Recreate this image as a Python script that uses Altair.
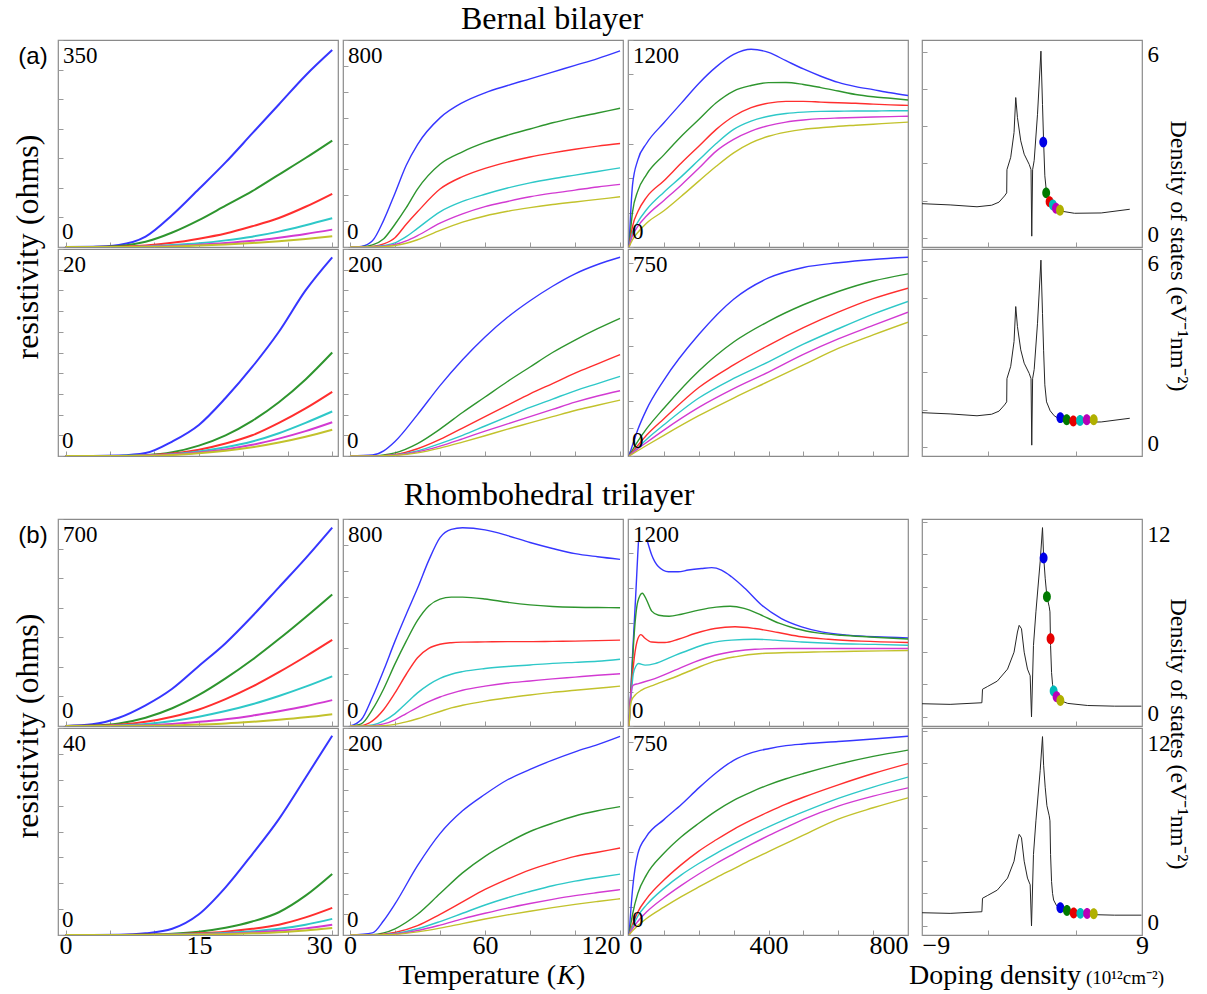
import altair as alt
import pandas as pd

# ---------------- styling constants ----------------
NAMES = ["blue", "green", "red", "cyan", "magenta", "yellow"]
LINE_COLORS = ["#3636ff", "#2e952e", "#ff2e2e", "#2ec8c8", "#d23ad2", "#c2c22c"]
DOT_COLORS = ["#0000e6", "#007a00", "#e60000", "#00baba", "#b800b8", "#b0b000"]
SERIF = "Liberation Serif"
SANS = "Liberation Sans"
W, W4, H = 280, 220, 207

# ---------------- data ----------------
T30 = [0, 3, 6, 9, 12, 15, 18, 21, 24, 27, 30]
T_A2 = [0, 5, 10, 15, 20, 25, 30, 40, 50, 60, 70, 80, 90, 100, 110, 120]
T_A3 = [0, 10, 25, 50, 100, 150, 200, 250, 300, 350, 400, 450, 500, 550, 600, 650, 700, 750, 800]
T_B2 = [0, 10, 15, 20, 30, 40, 50, 60, 70, 80, 90, 100, 110, 120]
T_B3 = [0, 25, 50, 100, 200, 300, 400, 500, 600, 700, 800]
T_C2 = [0, 5, 10, 15, 20, 25, 30, 35, 40, 45, 50, 60, 70, 80, 90, 100, 110, 120]
T_D3 = [0, 10, 25, 50, 100, 150, 200, 250, 300, 350, 400, 450, 500, 600, 700, 800]

A1 = {
    "blue": [0, 0.4, 3.5, 17.5, 54, 98, 143, 192, 241, 290, 333],
    "green": [0, 0, 1.8, 8.8, 24.5, 45.5, 70, 94.5, 122.5, 150.5, 180],
    "red": [0, 0, 0.4, 2.5, 7, 14, 22.8, 35, 49, 68, 90],
    "cyan": [0, 0, 0, 1, 3.2, 6.3, 11.2, 17.5, 26, 36.8, 48.6],
    "magenta": [0, 0, 0, 0.7, 1.8, 3.9, 6.7, 10.5, 15.8, 22, 29.4],
    "yellow": [0, 0, 0, 0.4, 1, 2.5, 4.2, 6.7, 9.8, 13.7, 18.2],
}
A2 = {
    "blue": [0, 2.4, 24, 104, 208, 316, 396, 499, 558, 596, 624, 650, 676, 702, 728, 758],
    "green": [0, 0.8, 8, 32, 88, 152, 224, 320, 368, 404, 432, 456, 480, 500, 518, 536],
    "red": [0, 0, 2.4, 12, 36, 88, 136, 224, 272, 304, 328, 348, 364, 378, 390, 400],
    "cyan": [0, 0, 0.8, 5.6, 16, 40, 72, 136, 176, 204, 228, 248, 264, 278, 292, 306],
    "magenta": [0, 0, 0, 3.2, 9.6, 24, 44, 92, 128, 156, 176, 194, 208, 220, 232, 242],
    "yellow": [0, 0, 0, 1.6, 5.6, 14.4, 28, 64, 96, 120, 138, 152, 164, 174, 184, 194],
}
A3 = {
    "blue": [0, 360, 504, 600, 720, 834, 948, 1044, 1116, 1146, 1128, 1080, 1032, 990, 954, 930, 912, 894, 878],
    "green": [0, 204, 324, 420, 534, 642, 739, 836, 904, 936, 953, 954, 942, 924, 904, 884, 871, 862, 852],
    "red": [0, 120, 204, 288, 384, 487, 584, 682, 758, 808, 834, 844, 844, 840, 836, 833, 828, 824, 821],
    "cyan": [0, 84, 144, 216, 318, 408, 504, 600, 682, 730, 758, 774, 782, 786, 787, 788, 788, 790, 790],
    "magenta": [0, 66, 120, 180, 270, 360, 456, 556, 624, 672, 704, 724, 736, 744, 748, 751, 754, 756, 758],
    "yellow": [0, 42, 84, 138, 210, 294, 382, 468, 546, 604, 642, 666, 682, 691, 700, 706, 712, 718, 724],
}
B1 = {
    "blue": [0, 0, 0.04, 0.28, 1.4, 3.0, 5.6, 8.6, 12, 16, 19.2],
    "green": [0, 0, 0, 0.08, 0.36, 1.0, 2.0, 3.4, 5.2, 7.4, 10.0],
    "red": [0, 0, 0, 0.06, 0.24, 0.6, 1.2, 2.0, 3.2, 4.6, 6.2],
    "cyan": [0, 0, 0, 0.04, 0.18, 0.44, 0.84, 1.4, 2.2, 3.2, 4.3],
    "magenta": [0, 0, 0, 0.04, 0.14, 0.34, 0.64, 1.08, 1.68, 2.4, 3.26],
    "yellow": [0, 0, 0, 0.02, 0.1, 0.26, 0.5, 0.84, 1.3, 1.86, 2.54],
}
B2 = {
    "blue": [0, 1, 5, 14, 40, 68, 93, 115, 134, 150, 164, 176, 185, 192],
    "green": [0, 0, 1, 3, 12, 26, 42, 57, 72, 86, 100, 112, 123, 133],
    "red": [0, 0, 0.4, 1.4, 7, 16, 27, 38, 49, 60, 70, 80, 89, 98],
    "cyan": [0, 0, 0.2, 1, 5, 12, 20, 29, 38, 47, 55, 63, 70, 77],
    "magenta": [0, 0, 0.2, 0.8, 4, 9.6, 16.6, 24, 31, 38, 45, 52, 58, 63],
    "yellow": [0, 0, 0.2, 0.6, 3, 7.6, 13.4, 19.6, 26, 32, 38, 44, 49, 54],
}
B3 = {
    "blue": [0, 95, 168, 275, 440, 568, 645, 683, 700, 712, 720],
    "green": [0, 53, 98, 173, 308, 413, 488, 548, 596, 634, 660],
    "red": [0, 38, 75, 135, 248, 330, 401, 465, 521, 570, 608],
    "cyan": [0, 30, 60, 113, 210, 281, 341, 405, 461, 514, 560],
    "magenta": [0, 26, 49, 94, 176, 244, 304, 368, 424, 473, 521],
    "yellow": [0, 19, 38, 75, 146, 210, 270, 330, 390, 439, 485],
}
C1 = {
    "blue": [0, 5.6, 28, 70, 126, 203, 280, 371, 469, 567, 671],
    "green": [0, 1.4, 8.4, 28, 60, 105, 161, 224, 294, 368, 445],
    "red": [0, 0.7, 4.2, 14, 31.5, 56, 91, 133, 182, 235, 291],
    "cyan": [0, 0, 2.1, 7, 16.8, 31.5, 50.4, 73.5, 101.5, 133, 168],
    "magenta": [0, 0, 0.7, 2.8, 7, 14, 23, 35, 50, 67, 87.5],
    "yellow": [0, 0, 0, 0.7, 2.1, 4.9, 8.4, 14, 21, 29.4, 40],
}
C2 = {
    "blue": [0, 24, 112, 216, 328, 432, 532, 640, 728, 760, 766, 758, 736, 709, 686, 666, 654, 644],
    "green": [0, 8, 64, 144, 240, 328, 408, 464, 490, 498, 498, 491, 478, 468, 462, 459, 458, 457],
    "red": [0, 1.6, 20, 64, 128, 200, 264, 300, 316, 322, 324, 325, 326, 326, 327, 328, 330, 332],
    "cyan": [0, 0, 4, 20, 48, 88, 128, 160, 184, 200, 210, 222, 230, 236, 242, 246, 250, 258],
    "magenta": [0, 0, 1.6, 8, 24, 48, 72, 94, 112, 126, 138, 154, 166, 174, 182, 189, 196, 202],
    "yellow": [0, 0, 0, 1.6, 6.4, 16, 28, 42, 56, 70, 80, 96, 109, 120, 130, 138, 146, 154],
}
T_C3_BLUE_A = [0, 5, 10, 15, 20, 25, 27]
R_C3_BLUE_A = [12, 204, 408, 600, 792, 996, 1068]
T_C3_BLUE_B = [53, 65, 84, 113, 141, 170, 208, 237, 265, 294, 332, 380, 437, 495, 552, 628, 705, 800]
R_C3_BLUE_B = [1068, 991, 924, 894, 894, 904, 913, 918, 904, 865, 798, 701, 623, 575, 546, 527, 517, 511]
T_C3_GREEN = [0, 8, 15, 25, 38, 50, 65, 85, 115, 150, 200, 250, 290, 330, 380, 430, 480, 540, 610, 690, 800]
R_C3_GREEN = [0, 300, 540, 720, 770, 732, 666, 642, 636, 648, 672, 689, 694, 682, 642, 596, 564, 540, 526, 516, 504]
T_C3_RED = [0, 5, 15, 25, 34, 45, 65, 103, 141, 189, 246, 304, 361, 428, 495, 571, 666, 800]
R_C3_RED = [0, 180, 396, 504, 530, 510, 487, 484, 503, 536, 565, 575, 565, 542, 517, 503, 492, 484]
T_C3_CYAN = [0, 5, 12, 20, 27, 46, 74, 122, 170, 227, 294, 361, 418, 495, 590, 705, 800]
R_C3_CYAN = [0, 144, 300, 348, 362, 353, 362, 401, 439, 478, 498, 503, 498, 487, 478, 473, 468]
T_C3_MAGENTA = [0, 3, 6, 12, 27, 74, 132, 189, 246, 304, 361, 437, 514, 609, 800]
R_C3_MAGENTA = [0, 120, 192, 236, 246, 275, 324, 372, 410, 433, 445, 449, 449, 449, 449]
T_C3_YELLOW = [0, 2, 4, 8, 17, 36, 74, 132, 189, 246, 304, 380, 456, 552, 647, 800]
R_C3_YELLOW = [0, 72, 120, 152, 178, 208, 240, 284, 332, 376, 401, 420, 426, 430, 433, 438]
D1 = {
    "blue": [0, 0, 0.04, 0.32, 1.2, 4, 9.2, 15.6, 22.4, 30.4, 38.5],
    "green": [0, 0, 0, 0.08, 0.24, 0.64, 1.4, 2.6, 4.4, 7.6, 11.8],
    "red": [0, 0, 0, 0.04, 0.12, 0.32, 0.64, 1.2, 2, 3.4, 5.24],
    "cyan": [0, 0, 0, 0, 0.08, 0.2, 0.4, 0.72, 1.2, 2, 3.12],
    "magenta": [0, 0, 0, 0, 0.04, 0.12, 0.24, 0.48, 0.8, 1.28, 2],
    "yellow": [0, 0, 0, 0, 0.04, 0.08, 0.16, 0.32, 0.52, 0.88, 1.36],
}
D2 = {
    "blue": [0, 2, 14, 30, 67, 98, 120, 136, 150, 160, 169, 177, 184, 192],
    "green": [0, 0.2, 2, 6, 20, 40, 60, 76, 89, 100, 108, 115, 120, 124],
    "red": [0, 0, 0.8, 2.4, 9, 20, 32, 44, 54, 63, 70, 76, 80, 84],
    "cyan": [0, 0, 0.4, 1.4, 6, 13, 21, 29, 36, 42, 47.6, 52, 55.6, 58.8],
    "magenta": [0, 0, 0.2, 1, 4.4, 9.6, 15.6, 21, 26, 30.4, 34.4, 38, 41, 43.8],
    "yellow": [0, 0, 0.2, 0.6, 3, 6.6, 11, 15.4, 19.4, 23, 26.4, 29.6, 32.4, 35],
}
D3 = {
    "blue": [0, 165, 293, 357, 418, 473, 533, 588, 633, 660, 675, 686, 692, 701, 710, 720],
    "green": [0, 75, 150, 218, 296, 356, 405, 450, 488, 518, 544, 566, 585, 619, 647, 670],
    "red": [0, 38, 83, 131, 199, 255, 304, 345, 383, 416, 446, 474, 499, 544, 585, 621],
    "cyan": [0, 30, 68, 109, 169, 218, 259, 296, 330, 362, 392, 420, 446, 495, 536, 572],
    "magenta": [0, 23, 49, 83, 135, 180, 221, 259, 294, 328, 360, 390, 419, 467, 503, 533],
    "yellow": [0, 15, 34, 60, 101, 139, 174, 208, 240, 272, 302, 332, 362, 420, 461, 497],
}
YMAX = {"A1": 350, "A2": 800, "A3": 1200, "B1": 20, "B2": 200, "B3": 750,
        "C1": 700, "C2": 800, "C3": 1200, "D1": 40, "D2": 200, "D3": 750}

N_BL = [-9, -6.7, -4.5, -3.3, -2.7, -2.25, -2.07, -2.05, -1.74, -1.47, -1.33, -1.19, -0.92, -0.64,
        -0.23, -0.08, -0.02, 0.05, 0.18, 0.45, 0.73, 0.86, 0.95, 1.05, 1.19, 1.49, 1.82, 2.37, 3.47, 5.66, 8.0]
DOS_BL = [1.1, 1.06, 1.0, 1.05, 1.15, 1.35, 1.45, 2.2, 2.6, 3.4, 4.53, 3.88, 3.13, 2.7,
          2.37, 2.2, 0.05, 2.2, 2.5, 3.99, 6.03, 4.3, 3.1, 2.0, 1.45, 1.16, 1.0, 0.86, 0.79, 0.8, 0.92]
N_TL = [-9, -6.7, -4.1, -4.05, -3.66, -2.84, -2.0, -1.47, -1.19, -1.05, -0.86, -0.64, -0.37, -0.15, -0.04,
        0.12, 0.32, 0.67, 0.86, 0.95, 1.08, 1.22, 1.41, 1.47, 1.52, 1.6, 1.68, 1.77, 2.01, 2.32, 2.92, 4.56, 6.75, 8.95]
DOS_TL = [0.81, 0.77, 0.87, 1.7, 1.86, 2.2, 2.94, 3.98, 5.22, 5.63, 5.42, 3.98, 2.94, 2.53, 0.0,
          4.39, 6.46, 9.57, 11.64, 9.88, 8.53, 7.39, 6.77, 6.46, 4.39, 2.73, 2.0, 1.59, 1.24, 1.01, 0.83, 0.7, 0.66, 0.66]
DOT_N_A = [0.92, 1.16, 1.44, 1.71, 1.96, 2.29]
DOT_D_A = [3.09, 1.45, 1.16, 1.06, 0.95, 0.89]
DOT_N_B = [2.32, 2.84, 3.38, 3.93, 4.48, 5.05]
DOT_D_B = [0.94, 0.87, 0.83, 0.85, 0.87, 0.87]
DOT_N_C = [0.95, 1.22, 1.52, 1.77, 2.01, 2.32]
DOT_D_C = [9.77, 7.39, 4.8, 1.59, 1.24, 1.01]
DOT_N_D = [2.32, 2.86, 3.41, 3.96, 4.51, 5.05]
DOT_D_D = [1.12, 0.95, 0.79, 0.77, 0.76, 0.75]

XTICKS = {1: [0, 5, 10, 15, 20, 25, 30], 2: [0, 20, 40, 60, 80, 100, 120],
          3: [0, 100, 200, 300, 400, 500, 600, 700, 800], 4: [-9, -7.2, -3.6, 0, 3.6, 7.2, 9]}
XLABELS = {1: [0, 15, 30], 2: [0, 60, 120], 3: [0, 400, 800], 4: [-9, 0, 9]}
XDOM = {1: [-0.85, 30.65], 2: [-3.1, 121.3], 3: [-3, 800], 4: [-9, 9]}
XALIGN = {1: {"condition": {"test": "datum.value == 30", "value": "right"}, "value": "center"},
          2: {"condition": {"test": "datum.value == 120", "value": "right"}, "value": "center"},
          3: {"condition": [{"test": "datum.value == 0", "value": "left"},
                            {"test": "datum.value == 800", "value": "right"}], "value": "center"},
          4: {"condition": {"test": "datum.value == -9", "value": "left"}, "value": "center"}}
DOS_DOM_BL = [-0.3, 6.39]
DOS_DOM_TL = [-0.56, 12.17]

ONE = pd.DataFrame({"k": [0]})


def txt(s, x, y, size=23, font=SERIF, align="left", baseline="alphabetic", angle=0, style="normal"):
    return alt.Chart(ONE).mark_text(
        text=s, font=font, fontSize=size, align=align, baseline=baseline,
        angle=angle, fontStyle=style, color="black"
    ).encode(x=alt.value(x), y=alt.value(y))


def x_axis(col, show):
    labs = XLABELS[col]
    expr = " || ".join(f"datum.value == {v}" for v in labs)
    return alt.Axis(values=XTICKS[col], labels=show, labelExpr=f"({expr}) ? datum.label : ''",
                    labelAlign=XALIGN[col], labelFlush=False, labelOverlap=False,
                    offset=-5, domain=False, ticks=True, tickSize=5, tickColor="#9a9a9a",
                    tickWidth=1, grid=False, title=None, labelFont=SERIF, labelFontSize=26,
                    labelColor="black", labelPadding=-3)


def res_panel(key, col, spec, show_x, extra=()):
    rows = []
    for i, name in enumerate(NAMES):
        for j, (ts, rs) in enumerate(spec[name]):
            for t, r in zip(ts, rs):
                rows.append({"T": t, "R": r, "col": LINE_COLORS[i], "seg": f"{i}{name}{j}"})
    df = pd.DataFrame(rows)
    ymax = YMAX[key]
    yax = alt.Axis(tickCount=7, labels=False, offset=-5, domain=False, ticks=True, tickSize=5,
                   tickColor="#9a9a9a", grid=False, title=None)
    lines = alt.Chart(df).mark_line(clip=True, strokeWidth=2.0 if col == 1 else 1.4,
                                    interpolate="monotone").encode(
        x=alt.X("T:Q", scale=alt.Scale(domain=XDOM[col], nice=False, zero=False), axis=x_axis(col, show_x)),
        y=alt.Y("R:Q", scale=alt.Scale(domain=[0, ymax], nice=False, zero=False), axis=yax),
        color=alt.Color("col:N", scale=None),
        detail="seg:N",
        order=alt.Order("T:Q"),
    )
    layers = [lines, txt(str(ymax), 5, 23), txt("0", 4, H - 8)] + list(extra)
    return alt.layer(*layers).properties(width=W, height=H)


def uni(T, d):
    return {k: [(T, v)] for k, v in d.items()}


def dos_panel(nn, dd, dn, dv, dom, yticks, ytop, show_x, extra=()):
    df = pd.DataFrame({"n": nn, "D": dd})
    dfd = pd.DataFrame({"n": dn, "D": dv, "col": DOT_COLORS})
    xsc = alt.Scale(domain=XDOM[4], nice=False, zero=False)
    ysc = alt.Scale(domain=dom, nice=False, zero=False)
    yleft = alt.Axis(values=yticks, labels=False, offset=-5, domain=False, ticks=True, tickSize=5,
                     tickColor="#9a9a9a", grid=False, title=None)
    top_base = "top" if ytop > 6 else "middle"
    yright = alt.Axis(orient="right", values=[0, ytop], ticks=False, domain=False, grid=False,
                      title=None, labelPadding=5, labelFont=SERIF, labelFontSize=23, labelColor="black",
                      labelBaseline={"condition": {"test": f"datum.value == {ytop}", "value": top_base},
                                     "value": "middle"},
                      labelOffset={"condition": {"test": "datum.value == 0", "value": -3}, "value": 2})
    curve = alt.Chart(df).mark_line(color="#262626", strokeWidth=1.0).encode(
        x=alt.X("n:Q", scale=xsc, axis=x_axis(4, show_x)),
        y=alt.Y("D:Q", scale=ysc, axis=yleft),
        order=alt.Order("n:Q"),
    )
    dots = alt.Chart(dfd).mark_point(
        filled=True, opacity=1, size=120,
        shape="M 0 -1 A 0.72 1 0 1 1 0 1 A 0.72 1 0 1 1 0 -1 Z",
    ).encode(
        x=alt.X("n:Q", scale=xsc),
        y=alt.Y("D:Q", scale=ysc, axis=yright),
        color=alt.Color("col:N", scale=None),
    )
    return alt.layer(curve, dots, *extra).resolve_axis(y="independent").properties(width=W4, height=H)


def spacer(w, h):
    return alt.Chart(ONE).mark_point(opacity=0).encode(
        x=alt.value(0), y=alt.value(0)
    ).properties(width=w, height=h, view=alt.ViewBackground(stroke="transparent"))


C3 = {
    "blue": [(T_C3_BLUE_A, R_C3_BLUE_A), (T_C3_BLUE_B, R_C3_BLUE_B)],
    "green": [(T_C3_GREEN, R_C3_GREEN)],
    "red": [(T_C3_RED, R_C3_RED)],
    "cyan": [(T_C3_CYAN, R_C3_CYAN)],
    "magenta": [(T_C3_MAGENTA, R_C3_MAGENTA)],
    "yellow": [(T_C3_YELLOW, R_C3_YELLOW)],
}

BL_TICKS = [0, 1.2, 2.4, 3.6, 4.8, 6]
TL_TICKS = [0, 2, 4, 6, 8, 10, 12]
DOS_LABEL = "Density of states (eV\u207b\u00b9nm\u207b\u00b2)"

pA1 = res_panel("A1", 1, uni(T30, A1), False, extra=[
    txt("(a)", -25, 17, size=24, font=SANS, align="center", baseline="middle"),
    txt("resistivity (ohms)", -30, H, size=32, align="center", baseline="middle", angle=270),
])
pA2 = res_panel("A2", 2, uni(T_A2, A2), False, extra=[
    txt("Bernal bilayer", 209, -11, size=32, align="center"),
])
pA3 = res_panel("A3", 3, uni(T_A3, A3), False)
pA4 = dos_panel(N_BL, DOS_BL, DOT_N_A, DOT_D_A, DOS_DOM_BL, BL_TICKS, 6, False, extra=[
    txt(DOS_LABEL, 256, 216, size=24, align="center", baseline="middle", angle=90),
])
pB1 = res_panel("B1", 1, uni(T30, B1), False)
pB2 = res_panel("B2", 2, uni(T_B2, B2), False)
pB3 = res_panel("B3", 3, uni(T_B3, B3), False)
pB4 = dos_panel(N_BL, DOS_BL, DOT_N_B, DOT_D_B, DOS_DOM_BL, BL_TICKS, 6, False)

pC1 = res_panel("C1", 1, uni(T30, C1), False, extra=[
    txt("(b)", -25, 17, size=24, font=SANS, align="center", baseline="middle"),
    txt("resistivity (ohms)", -30, H, size=32, align="center", baseline="middle", angle=270),
])
pC2 = res_panel("C2", 2, uni(T_C2, C2), False, extra=[
    txt("Rhombohedral trilayer", 206, -14, size=32, align="center"),
])
pC3 = res_panel("C3", 3, C3, False)
pC4 = dos_panel(N_TL, DOS_TL, DOT_N_C, DOT_D_C, DOS_DOM_TL, TL_TICKS, 12, False, extra=[
    txt(DOS_LABEL, 256, 215, size=24, align="center", baseline="middle", angle=90),
])
pD1 = res_panel("D1", 1, uni(T30, D1), True)
pD2 = res_panel("D2", 2, uni(T_B2, D2), True, extra=[
    txt("Temperature (", 213, 256, size=28, align="right"),
    txt("K", 214, 256, size=28, align="left", style="italic"),
    txt(")", 233, 256, size=28, align="left"),
])
pD3 = res_panel("D3", 3, uni(T_D3, D3), True)
pD4 = dos_panel(N_TL, DOS_TL, DOT_N_D, DOT_D_D, DOS_DOM_TL, TL_TICKS, 12, True, extra=[
    txt("Doping density", -13, 256, size=28, align="left"),
    txt("(10\u00b9\u00b2cm\u207b\u00b2)", 164, 256, size=19, align="left"),
])

GAP_COL = 4     # extra column -> 5 + 4 + 5 = 14 px between third and fourth panel
GAP_ROW = 59    # spacer row  -> 2 + 59 + 2 = 63 px between the two blocks

cells = [
    pA1, pA2, pA3, spacer(GAP_COL, H), pA4,
    pB1, pB2, pB3, spacer(GAP_COL, H), pB4,
    spacer(W, GAP_ROW), spacer(W, GAP_ROW), spacer(W, GAP_ROW), spacer(GAP_COL, GAP_ROW), spacer(W4, GAP_ROW),
    pC1, pC2, pC3, spacer(GAP_COL, H), pC4,
    pD1, pD2, pD3, spacer(GAP_COL, H), pD4,
]

chart = alt.concat(*cells, columns=5, spacing={"row": 2, "column": 5}, bounds="flush").properties(
    padding={"left": 11, "top": 2, "right": 5, "bottom": 5},
    background="white",
).configure_view(stroke="#8a8a8a", strokeWidth=1.2)

chart.save("out.html", embed_options={"renderer": "svg", "actions": False})
